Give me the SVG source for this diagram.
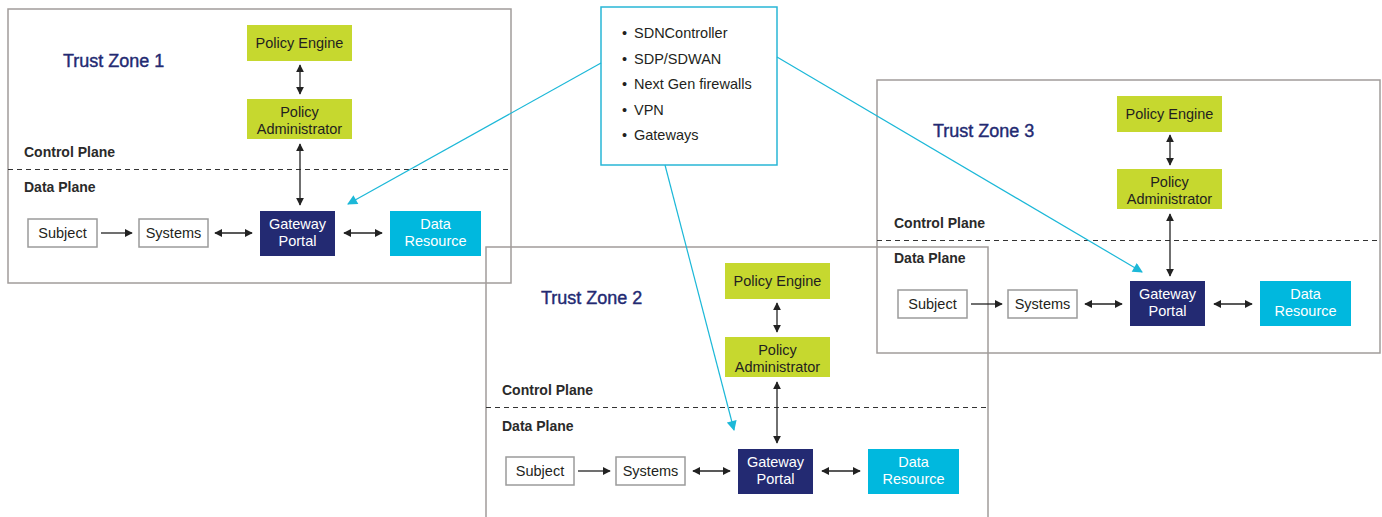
<svg xmlns="http://www.w3.org/2000/svg" width="1382" height="517" viewBox="0 0 1382 517">
<style>
text{font-family:"Liberation Sans",Arial,sans-serif;fill:#231f20}
.zone{fill:none;stroke:#a19c9a;stroke-width:1.5}
.plane{stroke:#333;stroke-width:1.2;stroke-dasharray:5 4;fill:none}
.zt{font-size:18px;fill:#232a72;stroke:#232a72;stroke-width:0.4}
.pl{font-size:14px;font-weight:bold;fill:#2a2a2a}
.green{fill:#c6d82f}
.navy{fill:#232a72}
.cyan{fill:#00b8de}
.wbox{fill:#fff;stroke:#9b9b9b;stroke-width:1.5}
.lbl{font-size:14.5px;text-anchor:middle}
.wl{font-size:14.5px;text-anchor:middle;fill:#fff}
.blk{stroke:#222;stroke-width:1.3;fill:none}
.cy{stroke:#1cb8d8;stroke-width:1.2;fill:none}
.info{fill:#fff;stroke:#29b6d6;stroke-width:1.5}
.it{font-size:14.5px}
</style>
<defs>
<marker id="ah" viewBox="0 0 10 10" refX="9" refY="5" markerWidth="8" markerHeight="8" markerUnits="userSpaceOnUse" orient="auto-start-reverse"><path d="M0,0 L10,5 L0,10 z" fill="#222"/></marker>
<marker id="ac" viewBox="0 0 10 10" refX="9" refY="5" markerWidth="11" markerHeight="10" markerUnits="userSpaceOnUse" orient="auto"><path d="M0,0 L10,5 L0,10 z" fill="#1cb8d8"/></marker>
</defs>

<!-- Trust Zone 1 -->
<g id="zone1">
<rect class="zone" x="8" y="9" width="503" height="274"/>
<line class="plane" x1="8" y1="169.5" x2="511" y2="169.5"/>
<text class="zt" x="63" y="67">Trust Zone 1</text>
<text class="pl" x="24" y="157">Control Plane</text>
<text class="pl" x="24" y="192">Data Plane</text>
</g>
<g id="z1-policy-engine"><rect class="green" x="247" y="25" width="105" height="36"/><text class="lbl" x="299.5" y="48">Policy Engine</text></g>
<g id="z1-policy-admin"><rect class="green" x="247" y="99" width="105" height="40"/><text class="lbl" x="299.5" y="117">Policy</text><text class="lbl" x="299.5" y="134">Administrator</text></g>
<g id="z1-subject"><rect class="wbox" x="28" y="219" width="69" height="28"/><text class="lbl" x="62.5" y="238">Subject</text></g>
<g id="z1-systems"><rect class="wbox" x="139" y="219" width="69" height="28"/><text class="lbl" x="173.5" y="238">Systems</text></g>
<g id="z1-gateway"><rect class="navy" x="260" y="211" width="75" height="45"/><text class="wl" x="297.5" y="229">Gateway</text><text class="wl" x="297.5" y="246">Portal</text></g>
<g id="z1-data"><rect class="cyan" x="390" y="211" width="91" height="45"/><text class="wl" x="435.5" y="229">Data</text><text class="wl" x="435.5" y="246">Resource</text></g>

<!-- Trust Zone 2 -->
<g id="zone2">
<rect class="zone" x="486" y="247" width="502" height="290"/>
<line class="plane" x1="486" y1="407.5" x2="988" y2="407.5"/>
<text class="zt" x="541" y="304">Trust Zone 2</text>
<text class="pl" x="502" y="395">Control Plane</text>
<text class="pl" x="502" y="431">Data Plane</text>
</g>
<g id="z2-policy-engine"><rect class="green" x="725" y="263" width="105" height="36"/><text class="lbl" x="777.5" y="286">Policy Engine</text></g>
<g id="z2-policy-admin"><rect class="green" x="725" y="337" width="105" height="40"/><text class="lbl" x="777.5" y="355">Policy</text><text class="lbl" x="777.5" y="372">Administrator</text></g>
<g id="z2-subject"><rect class="wbox" x="506" y="457" width="68" height="28"/><text class="lbl" x="540" y="476">Subject</text></g>
<g id="z2-systems"><rect class="wbox" x="616" y="457" width="69" height="28"/><text class="lbl" x="650.5" y="476">Systems</text></g>
<g id="z2-gateway"><rect class="navy" x="738" y="449" width="75" height="45"/><text class="wl" x="775.5" y="467">Gateway</text><text class="wl" x="775.5" y="484">Portal</text></g>
<g id="z2-data"><rect class="cyan" x="868" y="449" width="91" height="45"/><text class="wl" x="913.5" y="467">Data</text><text class="wl" x="913.5" y="484">Resource</text></g>

<!-- Trust Zone 3 -->
<g id="zone3">
<rect class="zone" x="877" y="80" width="503" height="273"/>
<line class="plane" x1="877" y1="240.5" x2="1380" y2="240.5"/>
<text class="zt" x="933" y="137">Trust Zone 3</text>
<text class="pl" x="894" y="228">Control Plane</text>
<text class="pl" x="894" y="263">Data Plane</text>
</g>
<g id="z3-policy-engine"><rect class="green" x="1117" y="96" width="105" height="36"/><text class="lbl" x="1169.5" y="119">Policy Engine</text></g>
<g id="z3-policy-admin"><rect class="green" x="1117" y="169" width="105" height="40"/><text class="lbl" x="1169.5" y="187">Policy</text><text class="lbl" x="1169.5" y="204">Administrator</text></g>
<g id="z3-subject"><rect class="wbox" x="898" y="290" width="69" height="28"/><text class="lbl" x="932.5" y="309">Subject</text></g>
<g id="z3-systems"><rect class="wbox" x="1008" y="290" width="69" height="28"/><text class="lbl" x="1042.5" y="309">Systems</text></g>
<g id="z3-gateway"><rect class="navy" x="1130" y="281" width="75" height="45"/><text class="wl" x="1167.5" y="299">Gateway</text><text class="wl" x="1167.5" y="316">Portal</text></g>
<g id="z3-data"><rect class="cyan" x="1260" y="281" width="91" height="45"/><text class="wl" x="1305.5" y="299">Data</text><text class="wl" x="1305.5" y="316">Resource</text></g>

<!-- Info box -->
<g id="technologies">
<rect class="info" x="601" y="7" width="176" height="158"/>
<text class="it" x="622" y="38">•</text><text class="it" x="634" y="38">SDNController</text>
<text class="it" x="622" y="64">•</text><text class="it" x="634" y="64">SDP/SDWAN</text>
<text class="it" x="622" y="89">•</text><text class="it" x="634" y="89">Next Gen firewalls</text>
<text class="it" x="622" y="115">•</text><text class="it" x="634" y="115">VPN</text>
<text class="it" x="622" y="140">•</text><text class="it" x="634" y="140">Gateways</text>
</g>

<g id="connectors">
<line class="blk" x1="300" y1="65" x2="300" y2="94" marker-start="url(#ah)" marker-end="url(#ah)"/>
<line class="blk" x1="300" y1="144" x2="300" y2="205" marker-start="url(#ah)" marker-end="url(#ah)"/>
<line class="blk" x1="101" y1="233" x2="132" y2="233" marker-end="url(#ah)"/>
<line class="blk" x1="215" y1="233" x2="252" y2="233" marker-start="url(#ah)" marker-end="url(#ah)"/>
<line class="blk" x1="344" y1="233" x2="382" y2="233" marker-start="url(#ah)" marker-end="url(#ah)"/>

<line class="blk" x1="777" y1="303" x2="777" y2="332" marker-start="url(#ah)" marker-end="url(#ah)"/>
<line class="blk" x1="777" y1="382" x2="777" y2="443" marker-start="url(#ah)" marker-end="url(#ah)"/>
<line class="blk" x1="578" y1="471" x2="610" y2="471" marker-end="url(#ah)"/>
<line class="blk" x1="693" y1="471" x2="730" y2="471" marker-start="url(#ah)" marker-end="url(#ah)"/>
<line class="blk" x1="822" y1="471" x2="860" y2="471" marker-start="url(#ah)" marker-end="url(#ah)"/>

<line class="blk" x1="1170" y1="135" x2="1170" y2="165" marker-start="url(#ah)" marker-end="url(#ah)"/>
<line class="blk" x1="1170" y1="214" x2="1170" y2="276" marker-start="url(#ah)" marker-end="url(#ah)"/>
<line class="blk" x1="971" y1="304" x2="1002" y2="304" marker-end="url(#ah)"/>
<line class="blk" x1="1085" y1="304" x2="1122" y2="304" marker-start="url(#ah)" marker-end="url(#ah)"/>
<line class="blk" x1="1214" y1="304" x2="1252" y2="304" marker-start="url(#ah)" marker-end="url(#ah)"/>

<line class="cy" x1="601" y1="63" x2="348" y2="204" marker-end="url(#ac)"/>
<line class="cy" x1="777" y1="57" x2="1142" y2="272" marker-end="url(#ac)"/>
<line class="cy" x1="665" y1="165" x2="734" y2="430" marker-end="url(#ac)"/>
</g>
</svg>
